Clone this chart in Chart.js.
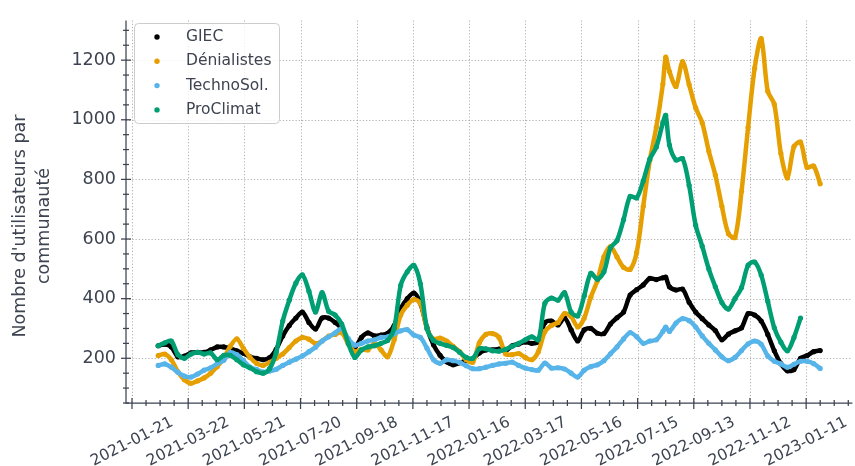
<!DOCTYPE html>
<html>
<head>
<meta charset="utf-8">
<script src="https://cdn.jsdelivr.net/npm/chart.js@4.4.1/dist/chart.umd.min.js"></script>
<style>
  html, body { margin: 0; padding: 0; background: #fff; }
  canvas { display: block; }
</style>
</head>
<body>
<canvas id="chart" width="855" height="466"></canvas>
<script>
const dates = [
  '2021-02-18','2021-02-25','2021-03-04','2021-03-11','2021-03-18','2021-03-25','2021-04-01','2021-04-08','2021-04-15','2021-04-22',
  '2021-04-29','2021-05-06','2021-05-13','2021-05-20','2021-05-27','2021-06-03','2021-06-10','2021-06-17','2021-06-24','2021-07-01',
  '2021-07-08','2021-07-15','2021-07-22','2021-07-29','2021-08-05','2021-08-12','2021-08-19','2021-08-26','2021-09-02','2021-09-09',
  '2021-09-16','2021-09-23','2021-09-30','2021-10-07','2021-10-14','2021-10-21','2021-10-28','2021-11-04','2021-11-11','2021-11-18',
  '2021-11-25','2021-12-02','2021-12-09','2021-12-16','2021-12-23','2021-12-30','2022-01-06','2022-01-13','2022-01-20','2022-01-27',
  '2022-02-03','2022-02-10','2022-02-17','2022-02-24','2022-03-03','2022-03-10','2022-03-17','2022-03-24','2022-03-31','2022-04-07',
  '2022-04-14','2022-04-21','2022-04-28','2022-05-05','2022-05-12','2022-05-19','2022-05-26','2022-06-02','2022-06-09','2022-06-16',
  '2022-06-23','2022-06-30','2022-07-07','2022-07-14','2022-07-21','2022-07-28','2022-08-04','2022-08-11','2022-08-14','2022-08-18',
  '2022-08-25','2022-09-01','2022-09-08','2022-09-15','2022-09-22','2022-09-29','2022-10-06','2022-10-13','2022-10-20','2022-10-27',
  '2022-11-03','2022-11-10','2022-11-17','2022-11-24','2022-12-01','2022-12-08','2022-12-15','2022-12-22','2022-12-29','2023-01-05',
  '2023-01-12','2023-01-19','2023-01-26'
];

const giec = [
  242, 247, 238, 205, 207, 218, 220, 220, 228, 238,
  238, 233, 225, 217, 205, 200, 195, 202, 230, 275,
  310, 335, 355, 320, 298, 335, 335, 320, 300, 262,
  236, 270, 285, 275, 278, 284, 310, 367, 400, 419,
  385, 303, 245, 210, 188, 178, 185, 192, 198, 218,
  228, 228, 231, 225, 242, 248, 255, 250, 255, 320,
  325, 312, 336, 295, 258, 295, 300, 284, 283, 315,
  336, 355, 412, 430, 446, 468, 464, 470, 472, 440,
  429, 432, 388, 355, 333, 312, 293, 262, 281, 292,
  302, 350, 345, 325, 280, 225, 182, 158, 162, 200,
  209, 222, 226
];

const denialistes = [
  209, 214, 195, 155, 128, 116, 124, 134, 150, 172,
  200, 240, 265, 233, 203, 183, 176, 186, 200, 214,
  236, 258, 270, 264, 249, 258, 274, 280, 286, 248,
  222, 230, 228, 250, 228, 205, 262, 345, 378, 397,
  385, 300, 264, 268, 258, 240, 222, 195, 187, 252,
  280, 283, 270, 215, 212, 216, 203, 195, 222, 290,
  310, 320, 350, 340, 305, 335, 405, 460, 540, 575,
  540, 505, 498, 555, 710, 864, 975, 1120, 1210, 1162,
  1112, 1195, 1118, 1040, 990, 895, 815, 710, 618, 605,
  760, 975, 1173, 1272, 1096, 1052, 887, 805, 910, 925,
  840, 845, 785
];

const technosol = [
  176, 181, 170, 153, 140, 137, 147, 160, 168, 182,
  193, 220, 212, 192, 170, 163, 154, 157, 163, 176,
  187, 197, 208, 222, 237, 258, 272, 285, 300, 266,
  244, 250, 258, 262, 270, 272, 282, 292, 296, 278,
  270, 234, 195, 183, 195, 192, 186, 175, 165, 165,
  170, 176, 181, 183, 187, 176, 167, 162, 160, 184,
  167, 168, 164, 150, 137, 160, 172, 178, 192, 215,
  238, 265, 286, 272, 250, 258, 262, 290, 305, 290,
  318, 333, 326, 305, 275, 250, 228, 205, 192, 203,
  226, 248, 258, 247, 208, 190, 181, 170, 180, 190,
  190, 182, 166
];

const proclimat = [
  242, 252, 258, 212, 200, 214, 220, 214, 218, 195,
  210, 210, 195, 178, 168, 155, 150, 165, 220, 325,
  395, 452, 480, 425, 355, 420, 358, 345, 315, 250,
  203, 228, 238, 242, 250, 260, 300, 445, 490, 512,
  450, 300, 260, 250, 243, 236, 220, 203, 200, 232,
  232, 225, 224, 230, 240, 250, 262, 272, 262, 385,
  402, 395, 420, 355, 342, 410, 485, 465, 490, 570,
  595, 665, 743, 738, 795, 868, 909, 990, 1015, 915,
  865, 870, 780, 646, 576, 500, 440, 387, 365, 400,
  437, 512, 523, 479, 391, 302, 254, 225, 270, 335,
  null, null, null
];

const seriesNames = ['GIEC', 'Dénialistes', 'TechnoSol.', 'ProClimat'];
const seriesColors = ['#000000', '#E69F00', '#56B4E9', '#009E73'];

const xTickDates = ['2021-01-21', '2021-03-22', '2021-05-21', '2021-07-20', '2021-09-18', '2021-11-17', '2022-01-16',
                    '2022-03-17', '2022-05-16', '2022-07-15', '2022-09-13', '2022-11-12', '2023-01-11'];
const yTicks = [200, 400, 600, 800, 1000, 1200];
const yTitle = ["Nombre d'utilisateurs par", 'communauté'];

const DAY = 864e5;
const t0 = Date.parse(xTickDates[0]);
const xMin = t0 - 6.4 * DAY;
const xMax = t0 + 769.4 * DAY;
const yMin = 50, yMax = 1333;

const axisColor = '#3d4350';
const gridColor = '#b0b0b0';
const fontFamily = '"DejaVu Sans", sans-serif';
Chart.defaults.font.family = fontFamily;

const seriesData = [giec, denialistes, technosol, proclimat];

function line(ctx, x1, y1, x2, y2) {
  ctx.beginPath();
  ctx.moveTo(x1, y1);
  ctx.lineTo(x2, y2);
  ctx.stroke();
}

const decor = {
  id: 'decor',
  beforeDatasetsDraw(chart) {
    const { ctx, chartArea: a, scales: { x, y } } = chart;
    ctx.save();
    ctx.strokeStyle = gridColor;
    ctx.lineWidth = 1;
    ctx.setLineDash([1.2, 2]);
    xTickDates.forEach(d => {
      const px = Math.round(x.getPixelForValue(Date.parse(d))) + 0.5;
      line(ctx, px, a.top, px, a.bottom);
    });
    yTicks.forEach(v => {
      const py = Math.round(y.getPixelForValue(v)) + 0.5;
      line(ctx, a.left, py, a.right, py);
    });
    ctx.restore();
  },
  afterDraw(chart) {
    const { ctx, chartArea: a, scales: { x, y } } = chart;
    ctx.save();
    ctx.strokeStyle = axisColor;
    ctx.lineWidth = 1.25;

    // spines, left and bottom only
    ctx.beginPath();
    ctx.moveTo(a.left, a.top);
    ctx.lineTo(a.left, a.bottom);
    ctx.lineTo(a.right, a.bottom);
    ctx.stroke();

    // x ticks: majors every 60 days, minors every 15
    for (let k = -4; k <= 56; k++) {
      const t = t0 + k * 15 * DAY;
      if (t < xMin || t > xMax) continue;
      const px = x.getPixelForValue(t);
      const big = k % 4 === 0;
      line(ctx, px, a.bottom - (big ? 5 : 3), px, a.bottom + (big ? 6 : 3));
    }
    // y ticks: majors every 200, minors every 50
    for (let v = 50; v <= yMax; v += 50) {
      const py = y.getPixelForValue(v);
      const big = v % 200 === 0;
      line(ctx, a.left - (big ? 5 : 3), py, a.left + (big ? 5 : 3), py);
    }

    // rotated date labels, centred on their ticks
    ctx.fillStyle = axisColor;
    ctx.font = '15.5px ' + fontFamily;
    ctx.textAlign = 'center';
    ctx.textBaseline = 'middle';
    xTickDates.forEach(d => {
      const px = x.getPixelForValue(Date.parse(d));
      ctx.save();
      ctx.translate(px, 442);
      ctx.rotate(-27 * Math.PI / 180);
      ctx.fillText(d, 0, 0);
      ctx.restore();
    });

    // y axis title on two lines
    ctx.font = '17.5px ' + fontFamily;
    yTitle.forEach((txt, i) => {
      ctx.save();
      ctx.translate(20 + i * 24, 226);
      ctx.rotate(-Math.PI / 2);
      ctx.fillText(txt, 0, 0);
      ctx.restore();
    });

    // legend box in the upper left corner
    const lx = 134.5, ly = 23.5, lw = 145, lh = 100;
    ctx.beginPath();
    ctx.roundRect(lx, ly, lw, lh, 4);
    ctx.fillStyle = 'rgba(255,255,255,0.8)';
    ctx.fill();
    ctx.strokeStyle = '#cccccc';
    ctx.lineWidth = 1;
    ctx.stroke();
    ctx.font = '15.5px ' + fontFamily;
    ctx.textAlign = 'left';
    seriesNames.forEach((name, i) => {
      const cy = 37 + i * 24.3;
      ctx.beginPath();
      ctx.arc(157, cy, 2.7, 0, Math.PI * 2);
      ctx.fillStyle = seriesColors[i];
      ctx.fill();
      ctx.fillStyle = axisColor;
      ctx.fillText(name, 186, cy);
    });
    ctx.restore();
  }
};

const datasets = seriesNames.map((name, i) => ({
  label: name,
  data: dates.map((d, j) => ({ x: Date.parse(d), y: seriesData[i][j] })),
  borderColor: seriesColors[i],
  backgroundColor: seriesColors[i],
  borderWidth: 4.5,
  pointRadius: 2.6,
  pointBorderWidth: 0,
  pointHoverRadius: 2.6,
  tension: 0.3,
  spanGaps: false,
  order: 3 - i
}));

new Chart(document.getElementById('chart'), {
  type: 'line',
  data: { datasets },
  options: {
    responsive: false,
    animation: false,
    devicePixelRatio: 1,
    events: [],
    layout: { padding: { top: 15, right: 0, bottom: 0, left: 0 } },
    plugins: { legend: { display: false }, tooltip: { enabled: false } },
    scales: {
      x: {
        type: 'linear',
        min: xMin,
        max: xMax,
        afterFit: s => { s.height = 63; },
        grid: { display: false },
        border: { display: false },
        ticks: { display: false }
      },
      y: {
        min: yMin,
        max: yMax,
        afterBuildTicks: s => { s.ticks = yTicks.map(v => ({ value: v })); },
        afterFit: s => { s.width = 126; },
        grid: { display: false, drawTicks: false },
        border: { display: false },
        ticks: { padding: 10, color: axisColor, font: { size: 17.5 }, callback: v => String(v) }
      }
    }
  },
  plugins: [decor]
});
</script>
</body>
</html>
